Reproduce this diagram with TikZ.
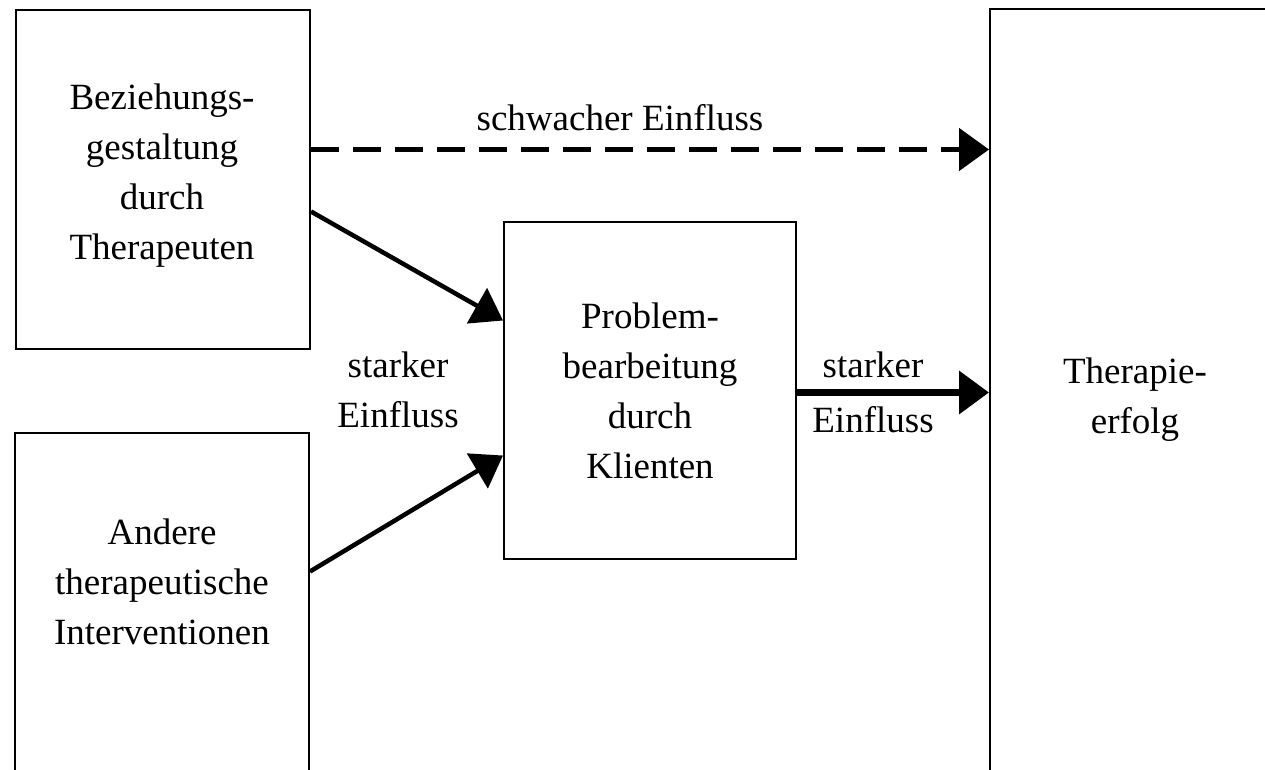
\documentclass[tikz,border=0pt]{standalone}
\usepackage{fontspec}
\setmainfont{Liberation Serif}
\usetikzlibrary{arrows.meta}
\begin{document}
\begin{tikzpicture}[x=1pt,y=-1pt,
  box/.style={draw,line width=2pt,rectangle,inner sep=0pt,anchor=north west},
  txt/.style={align=center,font=\fontsize{37}{50}\selectfont,inner sep=0pt},
  strong/.style={line width=4.5pt,-{Triangle[length=30pt,width=40pt]}},
  weak/.style={line width=5pt,dash pattern=on 28pt off 14pt,-{Triangle[length=30pt,width=42pt]}}]
\useasboundingbox (0,0) rectangle (1265,769);
% boxes
\node[box,minimum width=294pt,minimum height=339pt] (bez) at (15,9) {};
\node[txt] (beztxt) at (162,176) {Beziehungs-\\gestaltung\\durch\\Therapeuten};
\node[box,minimum width=294pt,minimum height=343pt] (and) at (14,432) {};
\node[txt] (andtxt) at (162,582) {Andere\\therapeutische\\Interventionen};
\node[box,minimum width=292pt,minimum height=337pt,txt,font=\fontsize{37}{50}\selectfont] (prob) at (503,221) {Problem-\\bearbeitung\\durch\\Klienten};
\node[box,minimum width=292pt,minimum height=784pt] (erf) at (989,8) {};
\node[txt] (erftxt) at (1135,400) {Therapie-\\erfolg};
% connectors
\draw[weak] ([yshift=30pt]bez.east) -- ([yshift=30pt]bez.east -| erf.west);
\draw[strong] ([yshift=-32pt]bez.east) -- ([yshift=70pt]prob.west);
\draw[strong] ([yshift=33pt]and.east) -- ([yshift=-65pt]prob.west);
\draw[strong,line width=7pt,-{Triangle[length=30pt,width=42pt]}] ([yshift=-2pt]prob.east) -- ([yshift=-2pt]prob.east -| erf.west);
% labels
\node[txt] (lweak) at (620,118) {schwacher Einfluss};
\node[txt] (lleft) at (398,390) {starker\\Einfluss};
\node[txt,font=\fontsize{37}{55}\selectfont] (lright) at (873,392) {starker\\Einfluss};
\end{tikzpicture}
\end{document}
